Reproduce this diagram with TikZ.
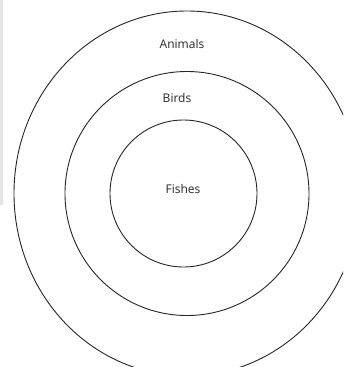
\documentclass[tikz,border=0pt]{standalone}
\usepackage{fontspec}
\setmainfont{Open Sans}
\usetikzlibrary{shapes.geometric}
\tikzset{
  ring/.style={draw=black!85, line width=0.9pt, inner sep=0pt, outer sep=0pt},
  lbl/.style={font=\fontsize{12}{14}\selectfont, text=black!85, inner sep=0pt}
}
\begin{document}
\begin{tikzpicture}[x=1pt,y=-1pt]
\useasboundingbox (0,0) rectangle (343,367);
\fill[white] (0,0) rectangle (343,367);
\fill[black!10] (0,0) rectangle (3,205);
\clip (0,0) rectangle (343,367);
\node[ring, ellipse, minimum width=346pt, minimum height=365pt] (animals) at (187,193.5) {};
\node[ring, circle, minimum size=244pt] (birds) at (187,193.5) {};
\node[ring, circle, minimum size=147pt] (fishes) at (183.5,193.5) {};
\node[lbl] (tanimals) at (182,44) {Animals};
\node[lbl] (tbirds) at (177,98) {Birds};
\node[lbl] (tfishes) at (183,189) {Fishes};
\end{tikzpicture}
\end{document}
